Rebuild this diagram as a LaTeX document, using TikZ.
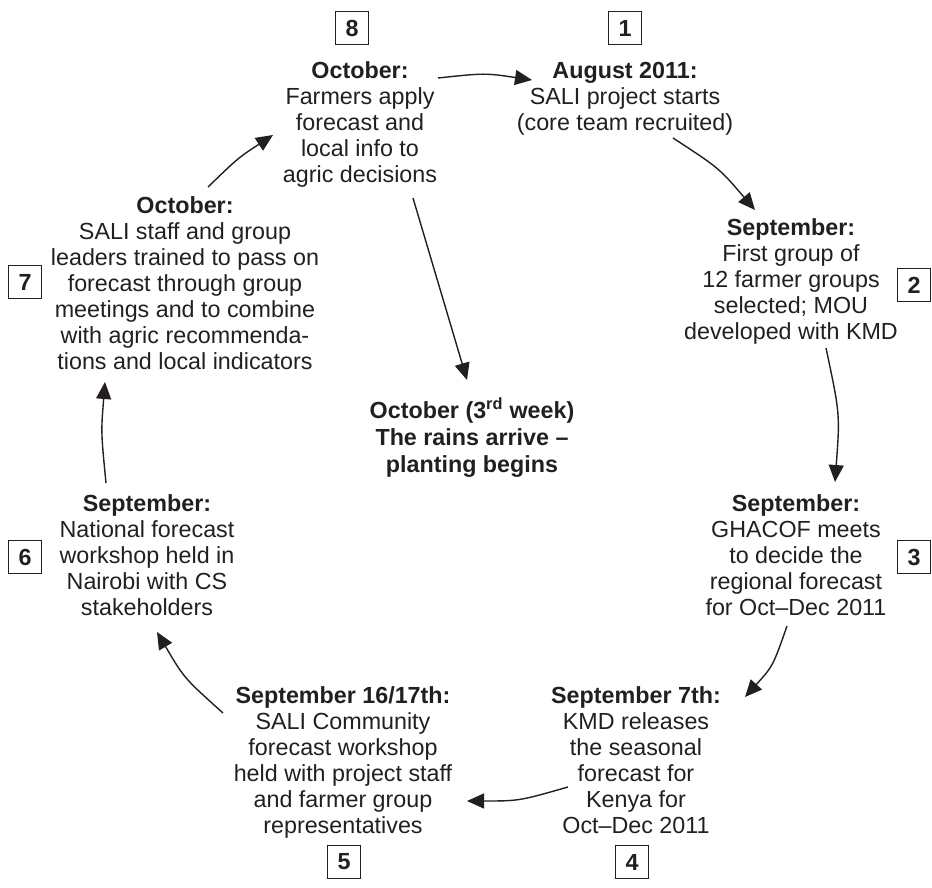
\documentclass[tikz,border=0pt]{standalone}
\usepackage{fontspec}
\setmainfont{Liberation Sans}
\usetikzlibrary{arrows.meta}
\definecolor{ink}{HTML}{231F20}
\newcommand\fst{\rule{0pt}{18pt}}
\begin{document}
\begin{tikzpicture}[x=1pt,y=-1pt,
  txt/.style={anchor=north, inner sep=0pt, align=center, text=ink,
    font=\fontsize{23.3}{26}\selectfont},
  numbox/.style={draw=ink, line width=1.4pt, minimum size=33pt, inner sep=0pt,
    text=ink, font=\bfseries\fontsize{23.3}{26}\selectfont},
  flow/.style={draw=ink, line width=1.4pt, -{Triangle[length=17pt,width=15pt]}}]
\useasboundingbox (0,0) rectangle (932,888);

% number boxes
\node[numbox] (b8) at (352,28) {8};
\node[numbox] (b1) at (625,28) {1};
\node[numbox] (b2) at (914,285) {2};
\node[numbox] (b3) at (914,557) {3};
\node[numbox] (b4) at (632,862) {4};
\node[numbox] (b5) at (344,862) {5};
\node[numbox] (b6) at (25,557) {6};
\node[numbox] (b7) at (25,282) {7};

% texts
\node[txt] (t8) at (360,60) {\fst\textbf{October:}\\Farmers apply\\forecast and\\local info to\\agric decisions};
\node[txt] (t1) at (625,60) {\fst\textbf{August 2011:}\\SALI project starts\\(core team recruited)};
\node[txt] (t2) at (791,217) {\fst\textbf{September:}\\First group of\\12 farmer groups\\selected; MOU\\developed with KMD};
\node[txt] (t3) at (796,493) {\fst\textbf{September:}\\GHACOF meets\\to decide the\\regional forecast\\for Oct–Dec 2011};
\node[txt] (t4) at (636,685) {\fst\textbf{September 7th:}\\KMD releases\\the seasonal\\forecast for\\Kenya for\\Oct–Dec 2011};
\node[txt] (t5) at (343,685) {\fst\textbf{September 16/17th:}\\SALI Community\\forecast workshop\\held with project staff\\and farmer group\\representatives};
\node[txt] (t6) at (147,493) {\fst\textbf{September:}\\National forecast\\workshop held in\\Nairobi with CS\\stakeholders};
\node[txt] (t7) at (185,195) {\fst\textbf{October:}\\SALI staff and group\\leaders trained to pass on\\forecast through group\\meetings and to combine\\with agric recommenda-\\tions and local indicators};
\node[txt, font=\bfseries\fontsize{23.3}{27}\selectfont] (tc) at (472,397)
  {\fst October (3\textsuperscript{rd} week)\\The rains arrive –\\planting begins};

% arrow end points
\coordinate (a81) at (438,78);  \coordinate (e81) at (532,80);
\coordinate (a12) at (673,138); \coordinate (e12) at (755,210);
\coordinate (a23) at (826,348); \coordinate (e23) at (835,482);
\coordinate (a34) at (787,626); \coordinate (e34) at (745,697);
\coordinate (a45) at (568,787); \coordinate (e45) at (467,801);
\coordinate (a56) at (223,713); \coordinate (e56) at (157,632);
\coordinate (a67) at (106,483); \coordinate (e67) at (105,382);
\coordinate (a78) at (208,187); \coordinate (e78) at (273,135);
\coordinate (a8c) at (413,198); \coordinate (e8c) at (467,380);

\draw[flow] (a81) .. controls (485,73) .. (e81);
\draw[flow] (a12) .. controls (719,168) .. (e12);
\draw[flow] (a23) .. controls (840,414) .. (e23);
\draw[flow] (a34) .. controls (773,666) .. (e34);
\draw[flow] (a45) .. controls (519,801) .. (e45);
\draw[flow] (a56) .. controls (184,678) .. (e56);
\draw[flow] (a67) .. controls (101,432) .. (e67);
\draw[flow] (a78) .. controls (238,158) .. (e78);
\draw[flow] (a8c) -- (e8c);
\end{tikzpicture}
\end{document}
